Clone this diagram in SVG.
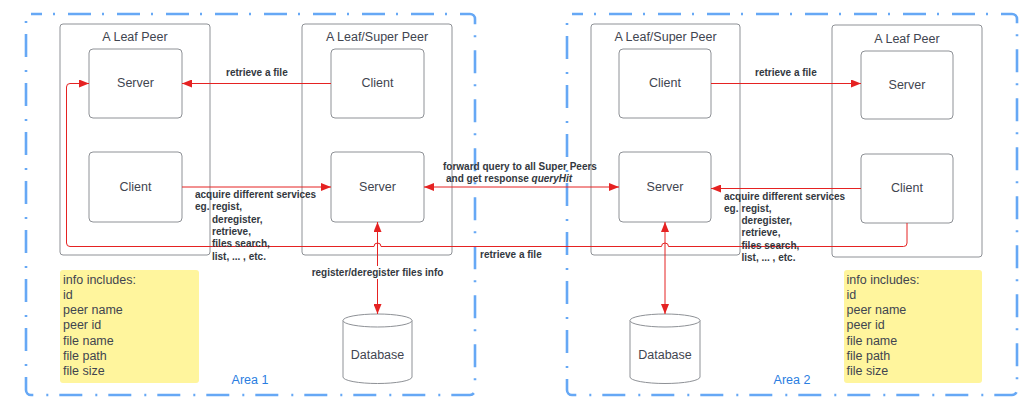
<svg xmlns="http://www.w3.org/2000/svg" width="1035" height="414" viewBox="0 0 1035 414">
<defs>
<style>
.area{fill:none;stroke:#66a8f5;stroke-width:2.6;stroke-dasharray:23 11 2 13;stroke-dashoffset:12}
.peer{fill:#fff;stroke:#8e9196;stroke-width:1}
.box{fill:#fff;stroke:#8e9196;stroke-width:1}
.t{font-family:"Liberation Sans",Arial,sans-serif;font-size:12.5px;fill:#3f4550}
.c{text-anchor:middle}
.lbl{font-family:"Liberation Sans",Arial,sans-serif;font-size:10px;font-weight:bold;fill:#333840}
.note{fill:#fff59d;stroke:none}
.area-t{font-family:"Liberation Sans",Arial,sans-serif;font-size:12.5px;fill:#2a7de1;text-anchor:middle}
.conn{fill:none;stroke:#e52222;stroke-width:1}
</style>
<marker id="ah" viewBox="0 0 10 8" refX="10" refY="4" markerWidth="10" markerHeight="8" markerUnits="userSpaceOnUse" orient="auto-start-reverse">
<path d="M0,0 L10,4 L0,8 Z" fill="#e52222"/>
</marker>
</defs>
<rect width="1035" height="414" fill="#fff"/>

<g id="area1">
<rect class="area" x="26" y="14" width="449" height="381" rx="5"/>
<text class="area-t" x="250" y="384">Area 1</text>
</g>
<g id="area2">
<rect class="area" x="567" y="14" width="450" height="381" rx="5"/>
<text class="area-t" x="792" y="384">Area 2</text>
</g>

<g id="leaf-peer-1">
<rect class="peer" x="60" y="24" width="150" height="231" rx="3"/>
<text class="t c" x="135" y="41">A Leaf Peer</text>
</g>
<g id="super-peer-1">
<rect class="peer" x="302" y="24" width="150" height="231" rx="3"/>
<text class="t c" x="377" y="41">A Leaf/Super Peer</text>
</g>
<g id="super-peer-2">
<rect class="peer" x="591" y="24" width="149" height="231" rx="3"/>
<text class="t c" x="665.5" y="41">A Leaf/Super Peer</text>
</g>
<g id="leaf-peer-2">
<rect class="peer" x="832" y="25" width="150" height="232" rx="3"/>
<text class="t c" x="907" y="43">A Leaf Peer</text>
</g>

<g id="leaf1-server">
<rect class="box" x="89" y="49" width="93" height="69" rx="4"/>
<text class="t c" x="135.5" y="87">Server</text>
</g>
<g id="leaf1-client">
<rect class="box" x="89" y="152" width="93" height="70" rx="4"/>
<text class="t c" x="135.5" y="191">Client</text>
</g>
<g id="super1-client">
<rect class="box" x="331" y="49" width="93" height="69" rx="4"/>
<text class="t c" x="377.5" y="87">Client</text>
</g>
<g id="super1-server">
<rect class="box" x="331" y="152" width="93" height="70" rx="4"/>
<text class="t c" x="377.5" y="191">Server</text>
</g>
<g id="super2-client">
<rect class="box" x="619" y="49" width="92" height="69" rx="4"/>
<text class="t c" x="665" y="87">Client</text>
</g>
<g id="super2-server">
<rect class="box" x="619" y="152" width="92" height="70" rx="4"/>
<text class="t c" x="665" y="191">Server</text>
</g>
<g id="leaf2-server">
<rect class="box" x="861" y="51" width="92" height="68" rx="4"/>
<text class="t c" x="907" y="89">Server</text>
</g>
<g id="leaf2-client">
<rect class="box" x="861" y="154" width="92" height="69" rx="4"/>
<text class="t c" x="907" y="192">Client</text>
</g>

<g id="db1">
<path class="box" d="M343,320.5 L343,377 A34.5,6.5 0 0 0 412,377 L412,320.5"/>
<ellipse class="box" cx="377.5" cy="320.5" rx="34.5" ry="6.5"/>
<text class="t c" x="377.5" y="358.5">Database</text>
</g>
<g id="db2">
<path class="box" d="M630,320.5 L630,377 A35,6.5 0 0 0 700,377 L700,320.5"/>
<ellipse class="box" cx="665" cy="320.5" rx="35" ry="6.5"/>
<text class="t c" x="665" y="358.5">Database</text>
</g>

<g id="note1">
<rect class="note" x="60" y="270" width="139" height="113" rx="3"/>
<text class="t" x="63" y="283.5">info includes:</text>
<text class="t" x="63" y="298.8">id</text>
<text class="t" x="63" y="314.1">peer name</text>
<text class="t" x="63" y="329.4">peer id</text>
<text class="t" x="63" y="344.7">file name</text>
<text class="t" x="63" y="360">file path</text>
<text class="t" x="63" y="375.3">file size</text>
</g>
<g id="note2">
<rect class="note" x="844" y="270" width="138" height="113" rx="3"/>
<text class="t" x="846.5" y="283.5">info includes:</text>
<text class="t" x="846.5" y="298.8">id</text>
<text class="t" x="846.5" y="314.1">peer name</text>
<text class="t" x="846.5" y="329.4">peer id</text>
<text class="t" x="846.5" y="344.7">file name</text>
<text class="t" x="846.5" y="360">file path</text>
<text class="t" x="846.5" y="375.3">file size</text>
</g>

<g id="connectors">
<path class="conn" d="M331,83.5 L182,83.5" marker-end="url(#ah)"/>
<path class="conn" d="M182,187 L331,187" marker-end="url(#ah)"/>
<path class="conn" d="M619,187 L424,187" marker-start="url(#ah)" marker-end="url(#ah)"/>
<path class="conn" d="M711,83.5 L861,83.5" marker-end="url(#ah)"/>
<path class="conn" d="M861,188.5 L711,188.5" marker-end="url(#ah)"/>
<path class="conn" d="M377.5,314 L377.5,222" marker-start="url(#ah)" marker-end="url(#ah)"/>
<path class="conn" d="M665,314 L665,222" marker-start="url(#ah)" marker-end="url(#ah)"/>
<path class="conn" d="M907,223 L907,243 Q907,246.5 903.5,246.5 L668.5,246.5 A3.5,3.5 0 0 0 661.5,246.5 L381,246.5 A3.5,3.5 0 0 0 374,246.5 L70,246.5 Q66.5,246.5 66.5,243 L66.5,87 Q66.5,83.5 70,83.5 L89,83.5" marker-end="url(#ah)"/>

<text class="lbl" x="226" y="76">retrieve a file</text>
<text class="lbl" x="755" y="76">retrieve a file</text>
<text class="lbl" x="480" y="257.5">retrieve a file</text>
<text class="lbl" x="443" y="169.5">forward query to all Super Peers</text>
<text class="lbl" x="446" y="181.5">and get response <tspan font-style="italic">queryHit</tspan></text>
<rect x="309" y="266" width="137" height="13" fill="#fff"/>
<text class="lbl" x="377.5" y="276" text-anchor="middle">register/deregister files info</text>
<text class="lbl" x="195" y="198">acquire different services</text>
<text class="lbl" x="195" y="210.3">eg.</text>
<text class="lbl" x="212" y="210.3">regist,</text>
<text class="lbl" x="212" y="222.6">deregister,</text>
<text class="lbl" x="212" y="234.9">retrieve,</text>
<text class="lbl" x="212" y="247.2">files search,</text>
<text class="lbl" x="212" y="259.5">list, ... , etc.</text>
<text class="lbl" x="724" y="199.5">acquire different services</text>
<text class="lbl" x="724" y="211.8">eg.</text>
<text class="lbl" x="741.5" y="211.8">regist,</text>
<text class="lbl" x="741.5" y="224.1">deregister,</text>
<text class="lbl" x="741.5" y="236.4">retrieve,</text>
<text class="lbl" x="741.5" y="248.7">files search,</text>
<text class="lbl" x="741.5" y="261">list, ... , etc.</text>
</g>
</svg>
